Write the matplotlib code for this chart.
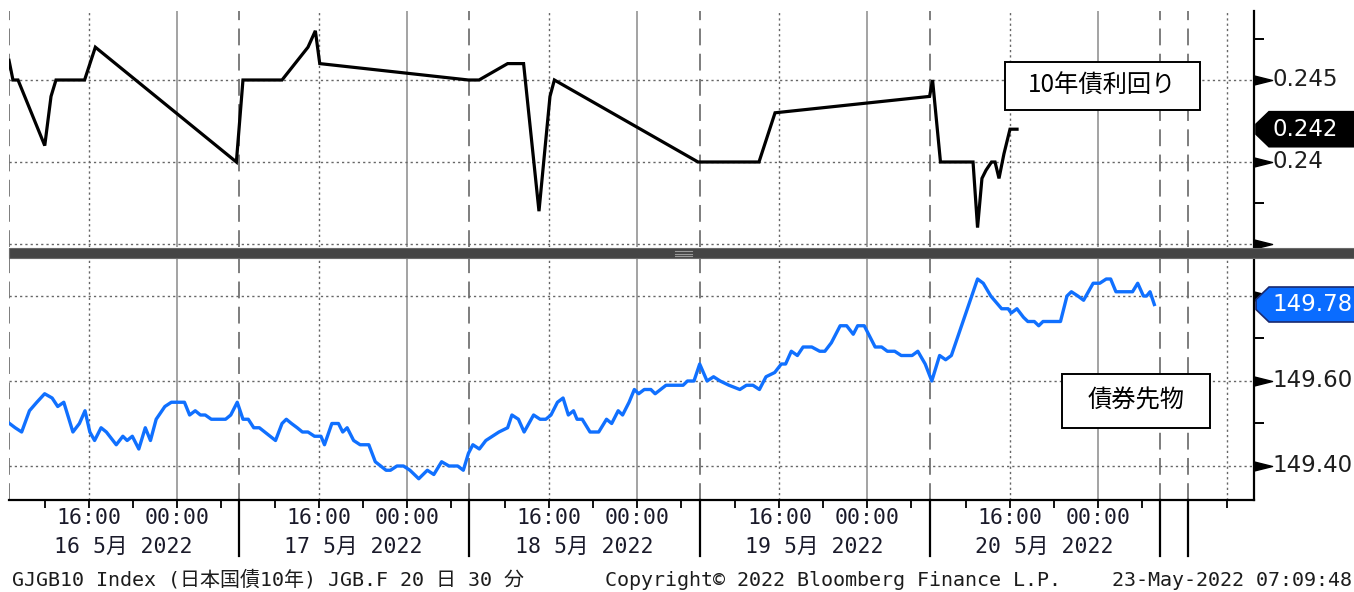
import matplotlib.pyplot as plt
import matplotlib.transforms as mtransforms
from matplotlib.patches import Rectangle, Polygon
from matplotlib.path import Path

plt.rcParams['font.family'] = ['DejaVu Sans', 'Noto Sans CJK JP']

W, H = 1354, 592
DAY = 20.93  # trading hours shown per session (08:45 open -> ~05:40)

# 10年債利回り: trading hours since 16 May 08:45, yield (%)
yld_h = [0.0, 0.36, 0.82, 3.25, 3.82, 4.27, 6.87, 7.85, 20.67, 21.27, 24.82,
         27.18, 27.85, 28.25, 41.77, 42.73, 45.33, 46.78, 48.18, 49.18, 49.58,
         62.64, 68.18, 69.64, 83.69, 83.96, 84.68, 87.64, 88.05, 88.45, 88.82,
         89.32, 89.64, 90.0, 90.45, 91.0, 91.64]
yld_v = [0.2462, 0.245, 0.245, 0.241, 0.244, 0.245, 0.245, 0.247, 0.240, 0.245, 0.245,
         0.247, 0.248, 0.246, 0.245, 0.245, 0.246, 0.246, 0.237, 0.244, 0.245,
         0.240, 0.240, 0.243, 0.244, 0.245, 0.240, 0.240, 0.236, 0.239, 0.2395,
         0.240, 0.240, 0.239, 0.2405, 0.242, 0.242]

# 債券先物 (JGB futures, 30 min)
fut_h = [0.05, 0.56, 1.15, 1.86, 2.53, 3.24, 3.92, 4.43, 4.98, 5.81, 6.40, 6.91,
         7.35, 7.78, 8.37, 8.85, 9.75, 10.35, 10.74, 11.21, 11.80, 12.39, 12.86,
         13.38, 14.17, 14.76, 15.95, 16.42, 16.93, 17.40, 17.84, 18.39, 19.69,
         20.16, 20.75, 21.27, 21.75, 22.25, 22.76, 24.23, 24.82, 25.21, 25.68,
         26.20, 26.67, 27.18, 27.77, 28.36, 28.68, 29.35, 29.95, 30.34, 30.74,
         31.33, 31.92, 32.71, 33.30, 34.28, 34.68, 35.27, 35.86, 36.45, 37.25,
         38.03, 38.62, 39.33, 40.00, 40.79, 41.30, 41.77, 42.17, 42.76, 43.35,
         43.95, 44.54, 45.33, 45.72, 46.31, 46.83, 47.69, 48.28, 48.80, 49.27,
         49.86, 50.37, 50.85, 51.32, 51.64, 52.11, 52.82, 53.61, 54.32, 54.79,
         55.38, 55.78, 56.37, 56.85, 57.24, 57.75, 58.35, 58.74, 59.73, 61.28,
         61.68, 62.27, 62.79, 63.46, 64.05, 64.65, 65.45, 66.44, 67.04, 67.63,
         68.22, 68.82, 69.61, 70.21, 70.60, 71.12, 71.67, 72.19, 72.98, 73.70,
         74.17, 74.76, 75.56, 76.15, 76.75, 77.15, 77.75, 78.74, 79.33, 79.85,
         80.52, 81.11, 82.10, 82.62, 83.29, 83.89, 84.60, 85.15, 85.67, 88.05,
         88.57, 89.25, 90.24, 90.83, 91.11, 91.63, 92.22, 92.62, 93.21, 93.61,
         94.00, 95.59, 96.18, 96.58, 97.17, 97.69, 98.56, 99.16, 99.75, 100.15,
         100.63, 102.14, 102.61, 103.13, 103.42, 103.73, 104.12]
fut_v = [149.50, 149.49, 149.48, 149.53, 149.55, 149.57, 149.56, 149.54, 149.55, 149.48, 149.50, 149.53,
         149.48, 149.46, 149.49, 149.48, 149.45, 149.47, 149.46, 149.47, 149.44, 149.49, 149.46,
         149.51, 149.54, 149.55, 149.55, 149.52, 149.53, 149.52, 149.52, 149.51, 149.51,
         149.52, 149.55, 149.51, 149.51, 149.49, 149.49, 149.46, 149.50, 149.51, 149.50,
         149.49, 149.48, 149.48, 149.47, 149.47, 149.45, 149.50, 149.50, 149.48, 149.49,
         149.46, 149.45, 149.45, 149.41, 149.39, 149.39, 149.40, 149.40, 149.39, 149.37,
         149.39, 149.38, 149.41, 149.40, 149.40, 149.39, 149.43, 149.45, 149.44, 149.46,
         149.47, 149.48, 149.49, 149.52, 149.51, 149.48, 149.52, 149.51, 149.51, 149.52,
         149.55, 149.56, 149.52, 149.53, 149.51, 149.51, 149.48, 149.48, 149.51, 149.50,
         149.53, 149.52, 149.55, 149.58, 149.57, 149.58, 149.58, 149.57, 149.59, 149.59,
         149.60, 149.60, 149.64, 149.60, 149.61, 149.60, 149.59, 149.58, 149.59, 149.59,
         149.58, 149.61, 149.62, 149.64, 149.64, 149.67, 149.66, 149.68, 149.68, 149.67,
         149.67, 149.69, 149.73, 149.73, 149.71, 149.73, 149.73, 149.68, 149.68, 149.67,
         149.67, 149.66, 149.66, 149.67, 149.64, 149.60, 149.66, 149.65, 149.66, 149.84,
         149.83, 149.80, 149.77, 149.77, 149.76, 149.77, 149.75, 149.74, 149.74, 149.73,
         149.74, 149.74, 149.80, 149.81, 149.80, 149.79, 149.83, 149.83, 149.84, 149.84,
         149.81, 149.81, 149.83, 149.80, 149.80, 149.81, 149.78]

dates = ['16 5月 2022', '17 5月 2022', '18 5月 2022', '19 5月 2022', '20 5月 2022']
time_labels = ['16:00', '00:00']
label_offsets = [7.25, 15.25]        # 16:00 and 00:00, hours after open
minor_offsets = [3.25, 11.25, 19.25]  # 12:00, 20:00, 04:00
yld_ticks = [0.24, 0.245]
fut_ticks = [149.40, 149.60]

fig = plt.figure(figsize=(W / 100, H / 100), dpi=100)


def fx(px):
    return px / W


def fy(py):
    return 1 - py / H


ax1 = fig.add_axes([fx(9), fy(247), fx(1254) - fx(9), fy(11) - fy(247)])
ax2 = fig.add_axes([fx(9), fy(500), fx(1254) - fx(9), fy(258) - fy(500)], sharex=ax1)

x_end = (1254 - 9) / 11
ax1.set_xlim(0, x_end)
ax1.set_ylim(0.245 - 167 / 16400, 0.245 + 69 / 16400)
ax2.set_ylim(149.60 - 119 / 425, 149.60 + 123 / 425)

day_starts = [d * DAY for d in range(6)]
extra_dash = 107.2
extra_dot = 110.7

for ax in (ax1, ax2):
    for s in ['left', 'top']:
        ax.spines[s].set_visible(False)
    ax.spines['right'].set_linewidth(1.6)
    ax.spines['bottom'].set_visible(ax is ax2)
    ax.spines['bottom'].set_linewidth(1.6)
    for x in day_starts + [extra_dash]:
        ax.axvline(x, color='#5a5a5a', lw=1.1, dashes=(11, 5.5), zorder=0)
    for d in range(5):
        ax.axvline(d * DAY + 7.25, color='#666666', lw=1.0, dashes=(1.6, 2.2), zorder=0)
        ax.axvline(d * DAY + 15.25, color='#8a8a8a', lw=1.1, zorder=0)
    ax.axvline(extra_dot, color='#666666', lw=1.0, dashes=(1.6, 2.2), zorder=0)

for v in [0.235, 0.24, 0.245]:
    ax1.axhline(v, color='#666666', lw=1.0, dashes=(1.6, 2.2), zorder=0)
for v in [149.40, 149.60, 149.80]:
    ax2.axhline(v, color='#666666', lw=1.0, dashes=(1.6, 2.2), zorder=0)

ax1.plot(yld_h, yld_v, color='black', lw=2.3, solid_joinstyle='miter', zorder=3)
ax2.plot(fut_h, fut_v, color='#1070ff', lw=2.4, zorder=3)

# right axis ticks
ax1.set_yticks([0.2375, 0.2475])
ax2.set_yticks([149.50, 149.70])
for ax in (ax1, ax2):
    ax.tick_params(axis='y', left=False, right=True, labelleft=False, labelright=False,
                   length=7, width=1.4, color='black')

# bottom time axis ticks
minor_x = [d * DAY + o for d in range(5) for o in minor_offsets + label_offsets] + [extra_dot]
ax2.set_xticks(minor_x)
ax2.tick_params(axis='x', length=6, width=1.3, color='black', labelbottom=False)
ax1.tick_params(axis='x', bottom=False, labelbottom=False)

arrow = Path([(0, -0.25), (1, 0), (0, 0.25), (0, -0.25)],
             [Path.MOVETO, Path.LINETO, Path.LINETO, Path.CLOSEPOLY])
ax1.plot([x_end] * 3, [0.235, 0.24, 0.245], ls='none', marker=arrow, ms=26,
         color='black', clip_on=False, zorder=5)
ax2.plot([x_end] * 3, [149.40, 149.60, 149.80], ls='none', marker=arrow, ms=26,
         color='black', clip_on=False, zorder=5)

for ax, ticks, fmt in [(ax1, yld_ticks, '{:g}'), (ax2, fut_ticks, '{:.2f}')]:
    tr = mtransforms.blended_transform_factory(fig.transFigure, ax.transData)
    for v in ticks:
        ax.text(fx(1272), v, fmt.format(v), transform=tr, ha='left', va='center',
                fontsize=16.5, color='#1e1e1e', family='DejaVu Sans')

mono = ['DejaVu Sans Mono', 'Noto Sans CJK JP']
trx = mtransforms.blended_transform_factory(ax2.transData, fig.transFigure)
for d, lab in enumerate(dates):
    for o, t in zip(label_offsets, time_labels):
        ax2.text(d * DAY + o, fy(518), t, transform=trx, ha='center', va='center',
                 fontsize=15.5, family=mono, color='#1a1a2a')
    ax2.text(d * DAY + 10.4, fy(547), lab, transform=trx, ha='center', va='center',
             fontsize=15.5, family=mono, color='#1a1a2a')
for x in day_starts[1:] + [extra_dash]:
    ax2.plot([x, x], [fy(500), fy(556)], transform=trx, color='black', lw=1.6,
             clip_on=False)

# separator between panes
fig.add_artist(Rectangle((fx(9), fy(257.5)), 1 - fx(9), 9 / H, transform=fig.transFigure,
                         fc='#454545', ec='#6a6a6a', lw=0.8))
for yy in (251, 253.5, 256):
    fig.add_artist(plt.Line2D([fx(675), fx(692)], [fy(yy), fy(yy)], color='#9a9a9a', lw=0.8))


def tag(ax, val, text, face, edge):
    yc = ax.transData.transform((0, val))[1]
    h = 17.5
    pts = [(1256, yc - 5), (1269, yc - h), (W + 2, yc - h), (W + 2, yc + h),
           (1269, yc + h), (1256, yc + 5)]
    fig.add_artist(Polygon(pts, closed=True, transform=mtransforms.IdentityTransform(),
                           fc=face, ec=edge, lw=1.2, zorder=6))
    fig.text(fx(1272), fy(H - yc), text, ha='left', va='center', fontsize=16.5,
             color='white', family='DejaVu Sans', zorder=7)


tag(ax1, yld_v[-1], '{:.3f}'.format(yld_v[-1]), 'black', 'black')
tag(ax2, fut_v[-1], '{:.2f}'.format(fut_v[-1]), '#0a6cff', '#1a2a70')

# series name boxes
for (x0, y0, x1, y1), name in [((1005, 62, 1200, 110), '10年債利回り'),
                               ((1062, 374, 1210, 428), '債券先物')]:
    fig.add_artist(Rectangle((fx(x0), fy(y1)), (x1 - x0) / W, (y1 - y0) / H,
                             transform=fig.transFigure, fc='white', ec='black', lw=1.4, zorder=8))
    fig.text(fx((x0 + x1) / 2), fy((y0 + y1) / 2), name, ha='center', va='center',
             fontsize=17.5, family=['Noto Sans CJK JP'], color='black', zorder=9)

# footer
fig.text(fx(12), fy(580), 'GJGB10 Index (日本国債10年) JGB.F 20 日 30 分', ha='left',
         va='center', fontsize=14.4, family=mono, color='#1c1c1c')
fig.text(fx(605), fy(580), 'Copyright© 2022 Bloomberg Finance L.P.', ha='left',
         va='center', fontsize=14.4, family=mono, color='#1c1c1c')
fig.text(fx(1352), fy(580), '23-May-2022 07:09:48', ha='right',
         va='center', fontsize=14.4, family=mono, color='#1c1c1c')

fig.savefig('out.png', dpi=100)
